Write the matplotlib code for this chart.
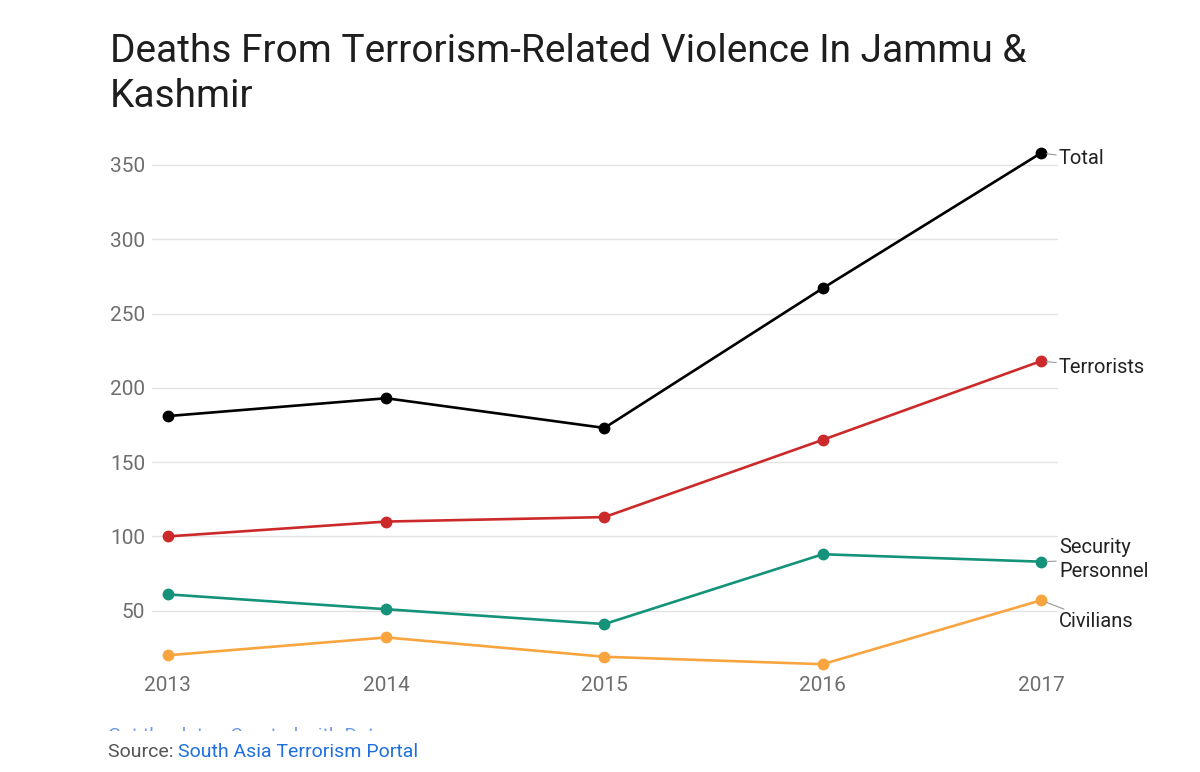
import matplotlib
matplotlib.use("Agg")
import matplotlib.pyplot as plt
from matplotlib.patches import Rectangle

plt.rcParams['font.family'] = ['Roboto', 'DejaVu Sans']

years = [2013, 2014, 2015, 2016, 2017]
total = [181, 193, 173, 267, 358]
terrorists = [100, 110, 113, 165, 218]
security = [61, 51, 41, 88, 83]
civilians = [20, 32, 19, 14, 57]

series_names = ["Total", "Terrorists", "Security\nPersonnel", "Civilians"]
series_values = [total, terrorists, security, civilians]
series_colors = ["#000000", "#cc2a2a", "#14937a", "#f8a540"]
label_offsets = [(18, -5), (18, -6), (18, 2), (18, -21)]
y_ticks = [50, 100, 150, 200, 250, 300, 350]

W, H = 1200, 772
fig = plt.figure(figsize=(12, 7.72), dpi=100)
ax = fig.add_axes([152 / W, 1 - 672 / H, (1058 - 152) / W, (672 - 140) / H])
ax.set_xlim(2012.927, 2017.078)
ax.set_ylim(8.75, 366.8)

for name, vals, col, off in zip(series_names, series_values, series_colors, label_offsets):
    ax.plot(years, vals, color=col, lw=1.9, marker='o', ms=7.5, clip_on=False, zorder=3)
    ax.annotate(name, xy=(years[-1], vals[-1]), xytext=off, textcoords='offset pixels',
                ha='left', va='center', fontsize=14.5, color='#222222',
                linespacing=1.3,
                arrowprops=dict(arrowstyle='-', color='#999999', lw=0.8,
                                shrinkA=0, shrinkB=4))

ax.set_yticks(y_ticks)
ax.set_xticks(years)
ax.set_xticklabels([str(y) for y in years])
ax.grid(axis='y', color='#e3e3e3', lw=1)
ax.grid(axis='x', visible=False)
ax.set_axisbelow(True)
for s in ax.spines.values():
    s.set_visible(False)
ax.tick_params(axis='both', length=0, labelsize=15, labelcolor='#6e6e6e')
ax.tick_params(axis='y', pad=5)
ax.tick_params(axis='x', pad=3)

fig.text(110 / W, 1 - 62 / H, "Deaths From Terrorism-Related Violence In Jammu &",
         fontsize=28, color='#1e1e1e', va='baseline', ha='left')
fig.text(110 / W, 1 - 107 / H, "Kashmir",
         fontsize=28, color='#1e1e1e', va='baseline', ha='left')

# clipped "Get the data" line
clip = Rectangle((0, 1 - 731 / H), 1, 4 / H, transform=fig.transFigure, visible=False)
fig.add_artist(clip)
gt = fig.text(108 / W, 1 - 741 / H, "Get the data \u2022 Created with Datawrapper",
              fontsize=14, color='#6c9be8', va='baseline', ha='left')
gt.set_clip_path(clip)

src1 = fig.text(108 / W, 1 - 757 / H, "Source: ", fontsize=14, color='#555555',
                va='baseline', ha='left')
fig.canvas.draw()
bb = src1.get_window_extent()
fig.text(bb.x1 / W, 1 - 757 / H, "South Asia Terrorism Portal", fontsize=14,
         color='#1f6fe0', va='baseline', ha='left')

fig.savefig("out.png", dpi=100)
